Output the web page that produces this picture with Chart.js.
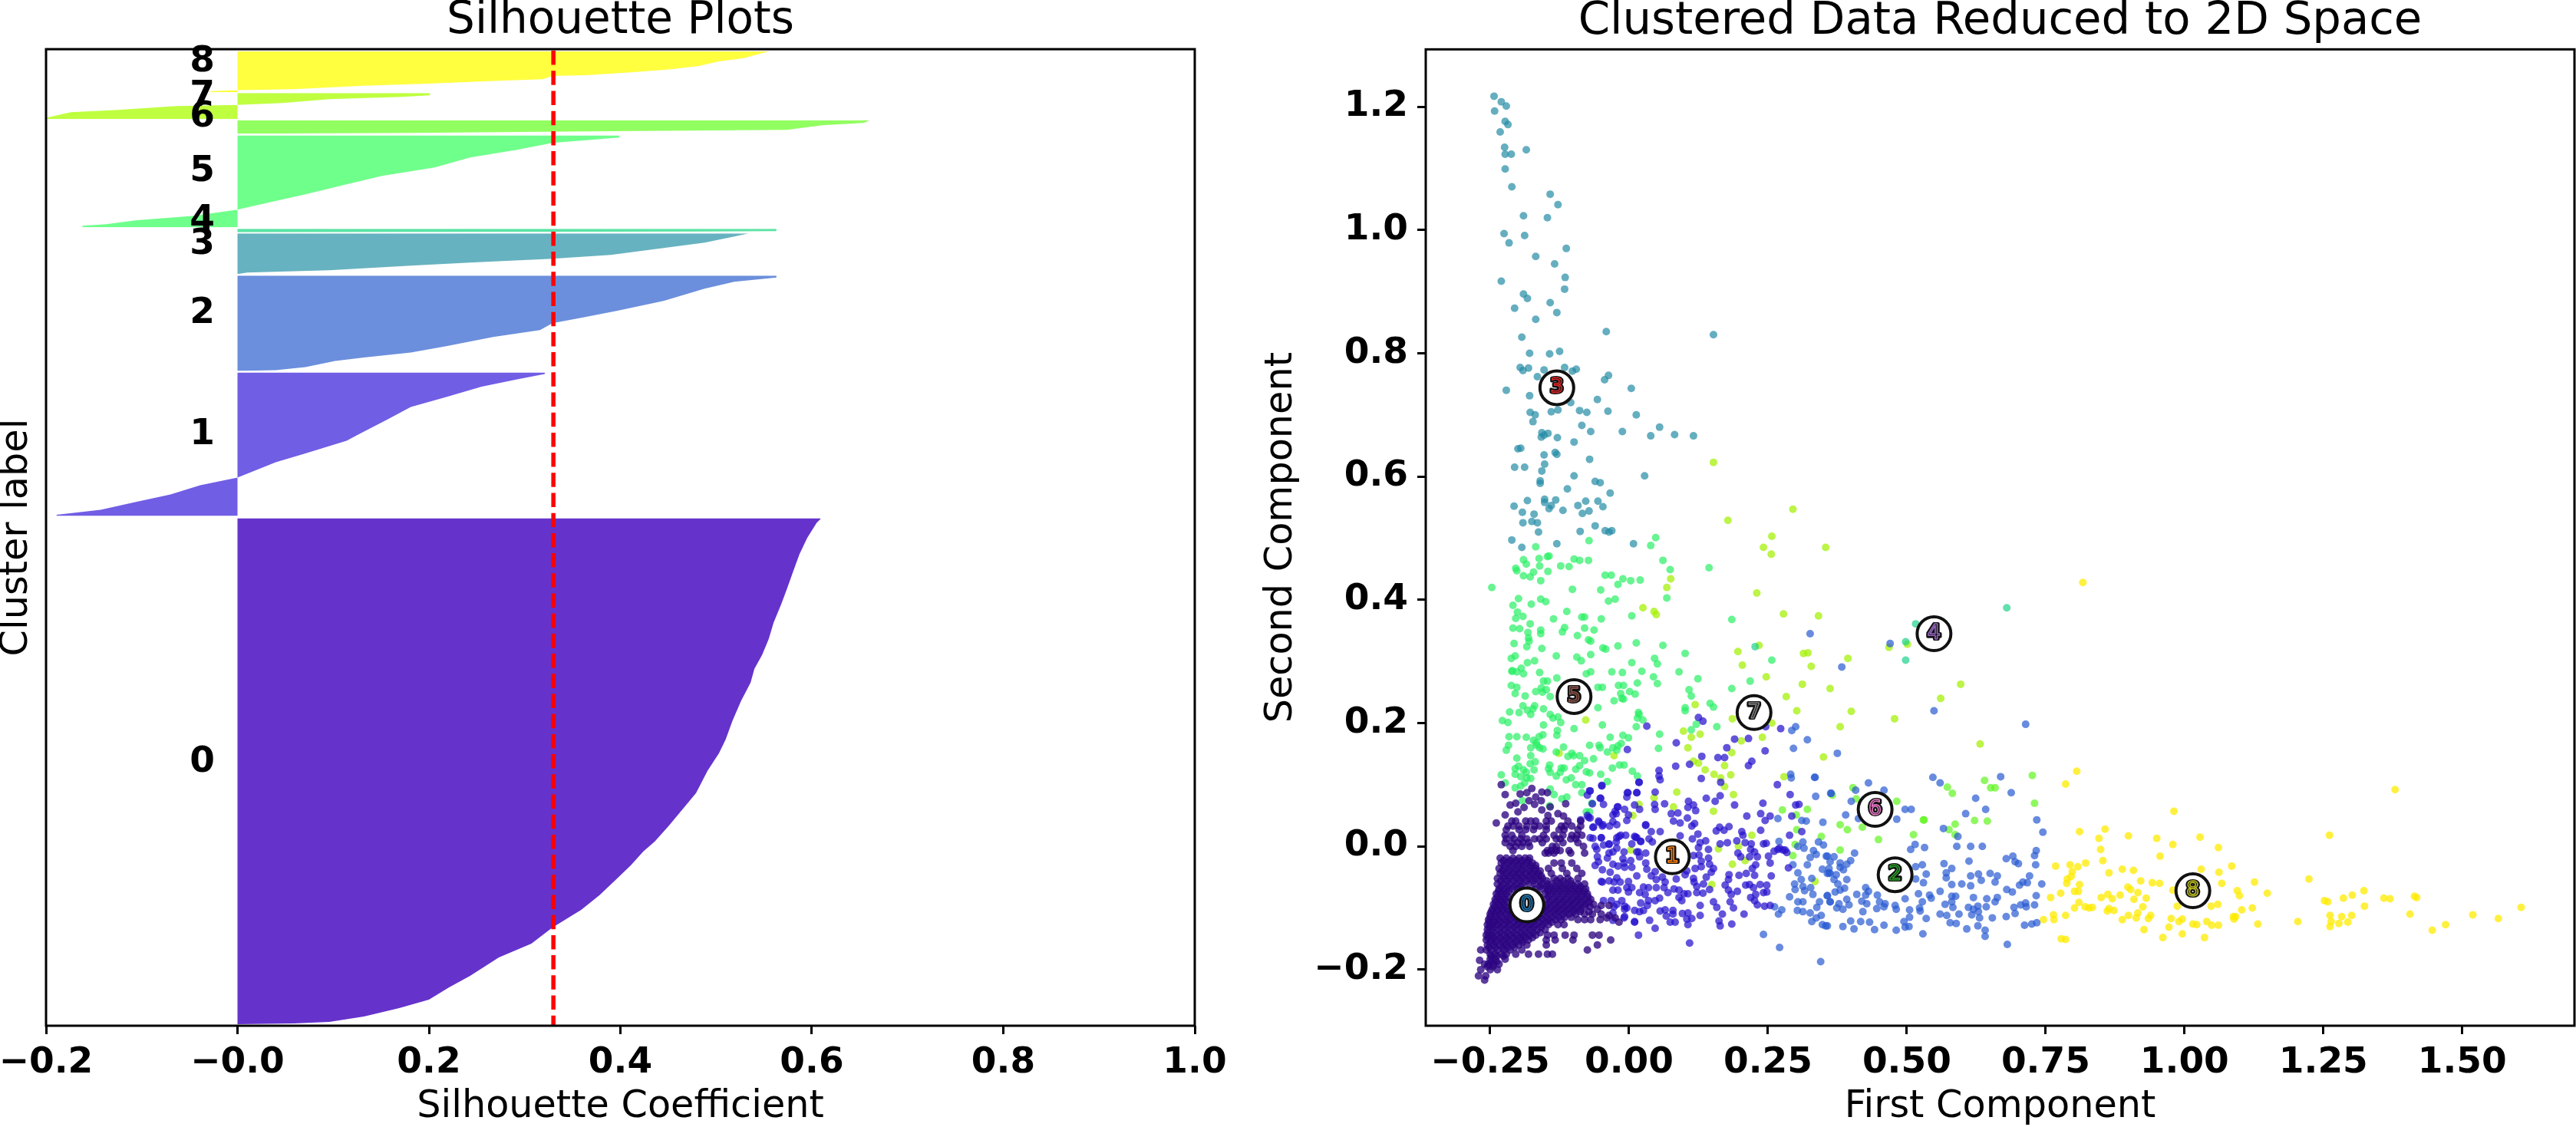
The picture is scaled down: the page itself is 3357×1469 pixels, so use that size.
<!DOCTYPE html>
<html><head><meta charset="utf-8">
<script src="https://cdn.jsdelivr.net/npm/chart.js@4"></script>
<style>html,body{margin:0;padding:0;background:#fff;width:3357px;height:1469px;overflow:hidden}
canvas{position:absolute;top:0}</style></head><body>
<canvas id="sil" width="1617" height="1469" style="left:0"></canvas>
<canvas id="pca" width="1933" height="1469" style="left:1640px"></canvas>
<script>
const clusterIds=[0,1,2,3,4,5,6,7,8];
const silhouetteMean=0.33;
// silhouette outlines, [coefficient, sample rank]
const sil0=[[.609,661],[.609,660],[.605,655],[.595,635],[.587,614],[.580,590],[.574,569],[.568,549],[.560,525],[.555,504],[.548,483],[.540,465],[.536,447],[.526,423],[.517,397],[.510,373],[.503,355],[.491,332],[.479,303],[.467,285],[.451,261],[.436,240],[.424,227],[.411,209],[.396,191],[.378,170],[.359,151],[.329,128],[.307,107],[.273,89],[.243,65],[.221,50],[.200,34],[.169,23],[.132,12],[.096,5],[.059,3],[0,2]];
const sil1=[[.321,851],[.321,849],[.292,842],[.255,832.5],[.218,819],[.181,806],[.157,790],[.126,770],[.114,762],[.071,745.5],[.040,734],[0,714],[-.039,704],[-.070,692],[-.107,682],[-.143,672],[-.189,665.6],[-.189,664]];
const sil2=[[.563,977],[.563,974.5],[.519,969],[.488,960],[.445,944],[.396,931],[.359,922],[.329,915],[.316,906],[.267,897],[.218,885],[.181,877],[.132,870.5],[.102,866],[.071,858],[.040,854],[0,853]];
const sil3=[[.534,1032],[.519,1028],[.488,1020],[.439,1012],[.390,1004],[.329,999],[.243,994],[.181,990],[.096,984],[.010,981],[0,979]];
const sil4=[[.563,1038],[.563,1035],[.488,1034.5],[0,1033.5]];
const sil5=[[.399,1159.8],[.399,1157],[.329,1150],[.292,1141],[.243,1131],[.206,1118],[.151,1107],[.114,1096],[.071,1083],[.028,1071],[0,1063],[-.045,1055],[-.107,1049],[-.137,1044],[-.162,1042],[-.162,1040]];
const sil6=[[.661,1179.4],[.654,1176],[.611,1173],[.574,1167],[.365,1165],[.181,1163],[0,1162]];
const sil7=[[.201,1215],[.201,1212],[.172,1210],[.096,1207],[.047,1202],[0,1199.5],[-.064,1198],[-.125,1193],[-.174,1190],[-.199,1183],[-.199,1181]];
const sil8=[[.555,1269],[.528,1260],[.503,1256],[.482,1250],[.451,1245.5],[.414,1242],[.365,1238],[.329,1237],[.319,1233],[.273,1231],[.194,1227],[.132,1224.5],[.059,1220],[0,1218.7],[-.027,1217.4],[-.030,1216]];
const labelRanks=[331,757,915,1005,1036,1100,1171,1198,1243];

const clusterCentersX=[-.184,.078,.479,-.130,.549,-.099,.443,.225,1.015];
const clusterCentersY=[-.095,-.017,-.046,.744,.345,.243,.060,.217,-.072];

const pts3=[[-.243,1.217],[-.230,1.208],[-.221,1.201],[-.242,1.193],[-.223,1.176],[-.218,1.171],[-.232,1.159],[-.224,1.134],[-.185,1.130],[-.223,1.123],[-.212,1.123],[-.223,1.099],[-.211,1.070],[-.142,1.058],[-.128,1.041],[-.190,1.023],[-.147,1.020],[-.225,.994],[-.188,.991],[-.216,.979],[-.113,.970],[-.168,.957],[-.134,.945],[-.115,.923],[-.230,.917],[-.116,.904],[-.190,.896],[-.183,.889],[-.142,.882],[-.206,.873],[-.130,.866],[-.168,.855],[-.041,.835],[.152,.830],[-.193,.826],[-.125,.803],[-.179,.800],[-.143,.799],[-.196,.777],[-.181,.776],[-.191,.772],[-.153,.773],[-.116,.777],[-.095,.774],[-.102,.771],[-.037,.764],[-.165,.762],[-.044,.757],[-.221,.740],[.004,.743],[-.179,.731],[-.057,.725],[-.105,.720],[-.178,.704],[-.169,.700],[-.140,.705],[-.128,.708],[-.089,.707],[-.076,.704],[-.038,.706],[.013,.700],[-.173,.689],[-.085,.683],[.055,.680],[-.157,.671],[-.146,.670],[-.153,.667],[-.158,.664],[-.069,.673],[-.012,.673],[.039,.666],[.082,.668],[.116,.666],[-.129,.663],[-.099,.656],[-.200,.645],[-.195,.646],[-.133,.639],[-.130,.636],[-.153,.635],[-.071,.628],[-.152,.620],[-.206,.615],[-.188,.615],[-.157,.609],[-.099,.601],[.028,.601],[-.160,.593],[-.160,.589],[-.061,.592],[-.052,.590],[-.111,.580],[-.034,.573],[-.183,.561],[-.152,.563],[-.152,.558],[-.132,.562],[-.078,.560],[-.056,.560],[-.207,.552],[-.140,.553],[-.144,.548],[-.092,.553],[-.047,.551],[-.192,.542],[-.171,.539],[-.119,.545],[-.084,.540],[-.072,.544],[-.175,.527],[-.191,.525],[-.165,.525],[-.061,.520],[-.088,.511],[-.163,.510],[-.043,.512],[-.036,.510],[-.031,.512],[-.211,.497],[-.193,.485],[-.130,.491],[.008,.491]];

const pts4=[[.516,.361],[.498,.332],[.498,.302],[.680,.387],[.227,.324]];

const pts5=[[-.168,.486],[-.072,.496],[.048,.501],[.039,.488],[-.190,.465],[-.162,.467],[-.147,.470],[-.144,.471],[-.099,.466],[-.089,.464],[-.073,.464],[.061,.464],[-.204,.451],[-.202,.447],[-.185,.458],[-.161,.455],[-.123,.455],[-.108,.454],[.074,.449],[.144,.452],[-.172,.445],[-.146,.446],[-.190,.439],[-.043,.440],[-.032,.440],[-.247,.420],[-.178,.437],[-.159,.431],[-.102,.417],[-.051,.416],[-.011,.434],[-.020,.425],[.003,.431],[.020,.432],[.068,.403],[-.199,.402],[-.209,.391],[-.159,.401],[-.150,.397],[-.176,.393],[-.037,.398],[-.025,.401],[-.112,.381],[-.201,.380],[-.204,.370],[-.191,.373],[-.136,.369],[.005,.374],[-.085,.372],[-.080,.372],[-.050,.369],[.185,.368],[-.178,.361],[-.209,.354],[-.197,.353],[-.116,.355],[-.080,.354],[-.063,.351],[-.159,.351],[-.182,.347],[-.159,.345],[-.120,.348],[-.093,.342],[-.181,.338],[-.180,.333],[-.073,.335],[-.069,.333],[-.207,.329],[.013,.330],[-.184,.324],[-.157,.321],[-.047,.322],[-.042,.320],[-.020,.325],[.061,.326],[.101,.313],[-.212,.305],[-.205,.309],[-.131,.309],[-.069,.311],[-.094,.307],[-.086,.301],[-.183,.298],[-.170,.301],[.005,.298],[.046,.305],[.051,.296],[.257,.302],[-.210,.285],[-.194,.289],[-.211,.284],[-.202,.283],[-.190,.280],[-.161,.282],[-.077,.280],[-.069,.283],[-.031,.283],[-.012,.282],[.023,.284],[.090,.283],[.044,.275],[-.130,.273],[.124,.272],[.218,.268],[-.154,.268],[-.147,.268],[.051,.264],[-.212,.261],[-.202,.258],[-.158,.257],[-.149,.254],[-.168,.251],[-.056,.258],[-.048,.258],[-.019,.261],[-.010,.261],[.015,.265],[.185,.256],[.108,.254],[-.205,.248],[-.156,.250],[.001,.251],[.011,.247],[-.015,.248],[.112,.244],[-.187,.244],[-.142,.243],[-.013,.240],[-.027,.236],[-.010,.239],[.146,.232],[.152,.226],[-.056,.225],[.101,.225],[.101,.220],[-.191,.228],[-.170,.228],[-.183,.221],[-.173,.223],[-.198,.217],[-.215,.218],[-.154,.223],[-.177,.214],[-.142,.214],[-.137,.208],[-.128,.210],[.017,.217],[.018,.214],[.015,.208],[-.228,.204],[-.218,.201],[-.123,.201],[.025,.205],[.121,.198],[-.154,.197],[-.048,.197],[.013,.194],[.158,.194],[.112,.189],[-.099,.191],[.055,.182],[-.129,.188],[-.130,.180],[-.155,.181],[-.216,.178],[-.202,.178],[-.185,.177],[-.034,.177],[-.011,.180],[-.001,.176],[-.172,.172],[-.162,.178],[-.217,.164],[-.167,.168],[-.177,.160],[-.166,.164],[-.071,.164],[-.054,.164],[-.014,.167],[-.020,.163],[.053,.159],[-.221,.156],[-.161,.160],[-.155,.158],[-.118,.161],[-.052,.160],[-.029,.160],[-.131,.153],[-.103,.151],[-.100,.147],[-.089,.147],[-.039,.153],[-.022,.156],[-.177,.147],[-.110,.146],[-.202,.143],[-.064,.142],[-.080,.139],[-.169,.137],[-.178,.134],[-.143,.132],[-.017,.132],[-.009,.132],[-.030,.127],[-.089,.131],[-.096,.125],[-.199,.130],[-.205,.126],[-.122,.127],[-.117,.127],[-.145,.126],[-.190,.124],[-.185,.120],[-.171,.124],[-.142,.120],[-.124,.120],[-.077,.121],[-.071,.119],[-.051,.117],[.006,.122],[-.230,.116],[-.205,.117],[-.195,.113],[-.184,.111],[-.131,.114],[-.177,.110],[.015,.114],[-.113,.108],[-.104,.111],[-.039,.105],[-.223,.103],[-.096,.100],[-.085,.100],[-.188,.103],[-.205,.095],[-.195,.098],[-.085,.087],[-.142,.093],[-.135,.084],[-.112,.080],[-.121,.077],[-.192,.074],[-.143,.066],[-.067,.070],[-.077,.056],[-.071,.056]];

const pts6=[[.573,.096],[.582,.086],[.640,.107],[.651,.095],[.659,.095],[.726,.115],[.730,.070],[.531,.043],[.587,.036],[.622,.042],[.645,.041],[.576,.027],[.587,.019],[.482,.073],[.420,.031],[.449,.011],[.512,.019],[.393,.027],[.380,.035],[.321,.060],[.276,.059],[.301,.051],[.302,.027],[.346,.016],[.403,.095],[.409,.077],[.366,.083],[.299,.003],[.295,-.015],[.380,-.006],[.530,.043]];

const pts7=[[.152,.623],[.178,.529],[.295,.547],[.257,.503],[.242,.485],[.256,.474],[.354,.485],[.075,.434],[.068,.420],[.230,.411],[.025,.387],[.045,.381],[.049,.376],[.278,.377],[.341,.374],[.196,.316],[.234,.326],[.314,.313],[.322,.314],[.204,.294],[.328,.292],[.394,.305],[.247,.275],[.312,.263],[.362,.256],[.283,.243],[.119,.230],[.302,.220],[.186,.207],[.400,.219],[.478,.207],[.561,.240],[.468,.323],[.501,.328],[-.078,.205],[.257,.200],[.380,.194],[.098,.187],[.128,.182],[.112,.177],[.240,.177],[.202,.171],[.106,.160],[.185,.152],[.350,.145],[-.027,.147],[-.126,.151],[.116,.138],[.125,.135],[.172,.131],[.137,.124],[.183,.116],[.153,.117],[.165,.111],[.279,.113],[.172,.097],[.086,.088],[.188,.084],[.045,.079],[.018,.068],[.080,.064],[.152,.057],[.007,.050],[.221,.018],[.197,0],[.161,-.004],[.003,-.006],[.186,-.029],[.209,-.023],[.149,-.062],[.335,-.057],[.597,.263],[.632,.166]];

const pts8=[[.817,.428],[.806,.122],[.786,.101],[1.379,.092],[.981,.057],[.811,.024],[.857,.028],[.899,.017],[.846,.013],[.950,.013],[1.028,.015],[1.261,.018],[.979,.003],[1.061,-.002],[.849,-.005],[.956,-.016],[.853,-.023],[.822,-.027],[.768,-.032],[.794,-.030],[.808,-.033],[1.085,-.032],[.888,-.037],[.908,-.039],[1.030,-.037],[.798,-.041],[.864,-.043],[1.062,-.042],[.796,-.049],[.789,-.053],[1.224,-.053],[.921,-.056],[.942,-.059],[.955,-.060],[1.126,-.058],[.788,-.060],[1.067,-.060],[.811,-.062],[.898,-.066],[.903,-.070],[1.095,-.072],[.802,-.073],[.809,-.073],[1.323,-.072],[.916,-.075],[.777,-.076],[1.149,-.076],[1.099,-.080],[1.302,-.079],[1.286,-.084],[.862,-.078],[.884,-.079],[.759,-.083],[.870,-.085],[.850,-.083],[.909,-.086],[.931,-.084],[1.359,-.084],[1.370,-.085],[1.414,-.081],[1.418,-.083],[1.252,-.088],[1.258,-.090],[.810,-.091],[1.060,-.094],[1.048,-.097],[.987,-.097],[1.324,-.097],[1.606,-.099],[.821,-.098],[.828,-.100],[.834,-.099],[.802,-.100],[.925,-.098],[.864,-.101],[.873,-.104],[.861,-.105],[1.122,-.100],[1.103,-.103],[.916,-.108],[.939,-.112],[.899,-.112],[.913,-.116],[.935,-.117],[.888,-.119],[.786,-.112],[.764,-.111],[.765,-.119],[.746,-.119],[1.406,-.110],[1.519,-.111],[1.565,-.117],[1.262,-.112],[1.283,-.114],[1.301,-.112],[1.088,-.114],[1.092,-.114],[1.089,-.118],[.976,-.117],[.996,-.118],[.990,-.122],[1.015,-.126],[1.022,-.127],[1.040,-.122],[1.049,-.128],[1.061,-.128],[1.132,-.126],[1.204,-.122],[1.264,-.122],[1.278,-.125],[1.294,-.123],[1.262,-.130],[1.470,-.127],[1.446,-.136],[.972,-.131],[.927,-.135],[.996,-.142],[.961,-.148],[1.036,-.148],[.778,-.150],[.786,-.151],[.979,-.071]];

const pts2=[[.357,-.016],[.369,-.017],[.362,-.025],[.380,-.027],[.380,-.034],[.386,-.038],[.399,-.023],[.392,-.029],[.406,-.011],[.360,-.036],[.357,-.044],[.362,-.044],[.373,-.046],[.369,-.054],[.376,-.061],[.392,-.054],[.371,-.074],[.380,-.071],[.388,-.068],[.357,-.080],[.362,-.090],[.378,-.093],[.385,-.102],[.396,-.095],[.374,-.100],[.392,-.086],[.410,-.078],[.426,-.067],[.431,-.073],[.426,-.079],[.419,-.089],[.428,-.093],[.447,-.079],[.451,-.090],[.461,-.093],[.459,-.098],[.446,-.101],[.421,-.106],[.479,-.096],[.481,-.102],[.505,-.103],[.523,-.100],[.524,-.105],[.528,-.090],[.497,-.085],[.521,-.077],[.541,-.079],[.544,-.084],[.560,-.073],[.581,-.081],[.588,-.081],[.581,-.090],[.569,-.094],[.583,-.099],[.611,-.099],[.620,-.102],[.628,-.097],[.643,-.098],[.659,-.090],[.663,-.083],[.620,-.083],[.644,-.085],[.680,-.070],[.690,-.074],[.703,-.063],[.709,-.058],[.693,-.099],[.705,-.095],[.714,-.092],[.695,-.109],[.679,-.114],[.654,-.116],[.631,-.116],[.629,-.106],[.617,-.111],[.594,-.110],[.560,-.110],[.572,-.112],[.578,-.124],[.589,-.125],[.608,-.134],[.628,-.129],[.641,-.136],[.641,-.146],[.681,-.159],[.712,-.128],[.529,-.142],[.535,-.117],[.505,-.115],[.495,-.122],[.497,-.131],[.504,-.130],[.481,-.136],[.459,-.128],[.442,-.135],[.433,-.123],[.417,-.122],[.405,-.134],[.399,-.121],[.385,-.130],[.357,-.129],
[.567,-.028],[.581,-.036],[.571,-.043],[.571,-.051],[.615,-.048],[.629,-.045],[.634,-.055],[.650,-.044],[.663,-.048],[.659,-.058],[.581,-.062],[.599,-.061],[.615,-.064],[.612,-.024],[.679,-.020],[.691,-.016],[.695,-.025],[.701,-.028],[.590,0],[.615,0],[.636,0],[.606,.053],[.624,.078],[.642,.060],[.566,.029],[.592,.016],
[.528,-.030],[.516,-.033],[.535,-.045],[.530,-.059],[.516,-.053],[.532,-.002],[.515,.003],[.507,-.005],[.459,.091],[.431,.103],[.390,.051],[.413,.045],[.482,.044],[.497,.060],[.508,.060],[.547,.112],[.560,.103],[.669,.113],[.688,.087],[.400,.073],[.408,.091],[.364,.086],
[.734,.043],[.745,.023],[.733,-.007],[.730,-.015],[.732,-.030],[.721,-.048],[.743,-.061],[.717,-.059],[.733,-.080],[.715,-.098],[.730,-.095],[.725,-.126],[.734,-.124],[.714,.198],[.549,.220],
[.334,.112],[.336,.081],[.363,.086],[.349,.039],[.311,.042],[.319,.041],[.268,.045],[.270,.008],[.313,.007],[.304,0],[.315,-.003],[.341,.007],[.350,.002],[.332,-.007],[.326,-.018],[.337,-.013],[.355,-.016],[.295,-.030],[.321,-.030],[.304,-.043],[.348,-.037],[.360,-.043],[.298,-.061],[.310,-.054],[.329,-.052],[.299,-.070],[.313,-.065],[.316,-.072],[.327,-.067],[.331,-.078],[.289,-.082],[.304,-.090],[.313,-.090],[.357,-.080],[.362,-.090],[.338,-.099],[.343,-.090],[.262,-.098],[.275,-.103],[.269,-.110],[.303,-.104],[.313,-.106],[.326,-.108],[.346,-.112],[.337,-.116],[.329,-.122],[.348,-.127],[.354,-.129],[.242,-.143],[.271,-.164],[.345,-.187],
[.326,.345],[.470,.329],[.383,.291],[.321,.173],[.375,.151],[.300,.194],[.293,.188],[.296,.159],[.291,.117],[.292,.111],[.335,.112]];

const pts1=[[.125,.209],[.133,.203],[.032,.195],[.190,.174],[.215,.175],[.273,.191],[.246,.194],[.085,.168],[.176,.160],[-.003,.157],[.245,.155],[.160,.144],[.172,.144],[.131,.146],[.221,.138],[.215,.131],[.109,.133],[.084,.130],[.054,.123],[.054,.114],[.056,.108],[.130,.110],[.165,.104],[.018,.104],[-.049,.099],[-.070,.090],[-.003,.087],[-.052,.078],[-.021,.064],[-.025,.057],[-.075,.050],[-.070,.046],[-.029,.051],[-.001,.051],[-.054,.039],[-.047,.035],[-.064,.031],[-.022,.035],[-.050,.014],[-.070,.014],[-.022,.014],[-.015,.018],[.010,.016],[-.061,0],[-.036,.003],[-.022,-.003],[-.036,-.011],[-.057,-.017],[-.011,-.020],[.003,-.023],[-.061,-.031],[-.029,-.029],[-.008,-.034],[-.050,-.057],[-.022,-.051],[-.001,-.057],[-.001,-.074],[-.029,-.071],[-.008,-.097],[-.008,-.114],[.010,-.123],[-.029,-.120],[.109,-.157],[-.008,-.102],[-.022,-.094],[-.029,-.108],[.290,.084],[.300,.067],[.306,.068],[.281,-.006],[.271,-.003],[.289,.018],[.311,.024],[.293,.049],[.267,.100],
[-.071,.090],[-.075,.083],[-.049,.098],[-.051,.078],[-.046,.068],[-.066,.069],[-.087,.043],[-.073,.047],[-.055,.041],[-.029,.040],[-.065,.031],[-.048,.033],[-.035,.033],[-.020,.064],[-.008,.060],[-.023,.053],[-.004,.042],[-.002,.087],[-.004,.080],[.014,.087],[.018,.104],[.010,.067],[.019,.060],[-.065,.013],[-.050,.014],[-.058,-.005],[-.036,.004],[-.046,.002],[-.018,.016],[-.006,.018],[-.023,.007],[-.029,-.009],[-.039,-.019],[-.055,-.025],[-.048,-.038],[-.034,-.042],[-.020,-.032],[-.009,-.027],[.005,-.034],[.014,-.048],[.030,.035],[.040,.024],[.012,.015],[.021,.008],[.005,.004],[.014,-.009],[-.009,-.009],[-.036,-.056],[-.048,-.058],[-.027,-.058],[-.016,-.058],[-.020,-.071],[-.004,-.067],[.005,-.067],[-.013,-.088],[-.004,-.100],[.010,-.104],[-.027,-.098],[-.046,-.088],[-.032,-.088],[-.009,-.116],[.010,-.122],
[.014,.014],[.021,.008],[.017,-.009],[.030,-.011],[.019,-.017],[.030,-.027],[.032,-.037],[.040,-.048],[.047,-.041],[.060,-.050],[.065,-.058],[.049,-.054],[.035,-.067],[.026,-.066],[.019,-.075],[.029,-.078],[.049,-.067],[.063,-.067],[.070,-.075],[.081,-.069],[.090,-.071],[.099,-.077],[.106,-.077],[.090,-.083],[.095,-.088],[.055,-.084],[.047,-.088],[.035,-.088],[.021,-.092],[.033,-.096],[.026,-.104],[.019,-.106],[.056,-.105],[.065,-.103],[.079,-.104],[.079,-.110],[.067,-.113],[.096,-.109],[.106,-.108],[.113,-.117],[.104,-.118],[.037,-.120],[.074,-.123],[.083,-.123],[.106,-.127],[.047,-.133],[.017,-.144],[.128,-.112],[.128,-.096],[.152,-.090],[.158,-.099],[.168,-.110],[.162,-.121],[.164,-.129],[.185,-.126],[.182,-.090],[.188,-.100],[.207,-.110],[.231,-.095],[.244,-.097],[.254,-.096],[.122,-.075],[.133,-.076],[.145,-.070],[.134,-.061],[.122,-.065],[.116,-.052],[.117,-.058],[.139,-.050],[.148,-.042],[.152,-.036],[.130,-.033],[.145,-.029],[.130,-.024],[.143,-.019],[.126,-.014],[.116,-.015],[.119,-.036],[.104,-.040],[.101,-.046],[.085,-.053],[.125,-.002],[.128,.006],[.138,.009],[.143,-.005],[.114,.012],[.124,.020],[.092,.017],[.056,.024],[.030,.034],[.042,.007],[.036,.012],[.180,-.046],[.179,-.054],[.173,-.063],[.179,-.071],[.184,-.078],[.195,-.073],[.198,-.047],[.211,-.044],[.210,-.063],[.217,-.062],[.222,-.036],[.228,-.030],[.226,-.047],[.224,-.067],[.228,-.078],[.219,-.083],[.226,-.088],[.196,-.011],[.201,-.017],[.217,-.017],[.231,-.017],[.219,-.005],[.226,-.009],[.220,.004],[.209,.006],[.194,.009],[.205,.018],[.203,.024],[.177,.006],[.164,.004],[.157,.025],[.163,.031],[.171,.026],[.180,.032],[.113,.033],[.118,.037],[.105,.046],[.092,.038],[.080,.041],[.076,.053],[.088,.054],[.120,.058],[.106,.063],[.116,.067],[.107,.073],[.064,.069],[.047,.060],[.046,.068],[.047,.088],[.014,.087],[.139,.078],[.155,.073],[.164,.082],[.190,.067],[.212,.049],[.237,.053],[.254,.049],[.245,.042],[.241,.070],[.237,.026],[.242,.004],[.247,.005],[.261,-.008],[.251,-.016],[.268,-.005],[.277,-.006],[.284,-.010],[.254,-.027],[.287,-.035],[.256,-.048],[.248,-.063],[.236,-.062],[.248,-.074],[.242,-.075]];

// cluster 0, read row by row: [second component, [first component...]]
const rows0=[
[.100,[-.230]],[.094,[-.175]],[.088,[-.157]],[.087,[-.184,-.147]],[.085,[-.196]],[.084,[-.223]],[.080,[-.168]],[.074,[-.180,-.158]],[.070,[-.204]],[.069,[-.114]],[.068,[-.170]],[.067,[-.214]],[.064,[-.142]],[.063,[-.189]],[.059,[-.157]],[.056,[-.200]],[.053,[-.128]],[.051,[-.223]],[.050,[-.146]],[.049,[-.118]],
[.041,[-.211,-.204,-.186,-.177,-.168,-.149,-.140,-.110,-.087]],[.038,[-.239]],
[.033,[-.218,-.209,-.198,-.184,-.170,-.161,-.149,-.122,-.115,-.103,-.087]],
[.027,[-.221,-.198,-.186,-.172,-.149,-.126,-.117,-.092]],
[.018,[-.223,-.211,-.193,-.154,-.135,-.119,-.103,-.094,-.085]],
[.012,[-.221,-.207,-.195,-.184,-.170,-.161,-.149,-.131,-.124,-.105,-.096]],
[.006,[-.223,-.211,-.200,-.191,-.181,-.156,-.119,-.092]],
[0,[-.214,-.204,-.193,-.179,-.138,-.131,-.082]],
[-.007,[-.209,-.147,-.140,-.131,-.124,-.108]],[-.011,[-.151,-.145,-.135,-.105,-.080]],
[-.019,[-.232,-.221,-.209,-.198,-.187,-.179]],
[-.023,[-.226,-.214,-.203,-.192,-.181]],
[-.027,[-.230,-.218,-.207,-.195,-.184,-.174,-.135,-.122,-.103]],
[-.031,[-.224,-.212,-.200,-.190,-.178,-.168]],
[-.036,[-.234,-.225,-.214,-.202,-.191,-.179,-.168,-.145,-.120,-.094]],
[-.040,[-.228,-.216,-.204,-.192,-.180,-.170,-.160]],
[-.044,[-.232,-.221,-.209,-.198,-.186,-.174,-.163,-.140,-.112,-.085]],
[-.048,[-.226,-.214,-.203,-.192,-.180,-.168,-.158]],
[-.052,[-.237,-.225,-.214,-.202,-.191,-.179,-.168,-.156,-.135,-.124,-.110,-.092]],
[-.056,[-.231,-.220,-.208,-.196,-.184,-.172,-.160,-.148,-.130,-.118,-.105]],
[-.061,[-.237,-.227,-.216,-.204,-.193,-.181,-.170,-.158,-.147,-.138,-.126,-.115,-.103,-.092,-.080]],
[-.065,[-.230,-.218,-.206,-.194,-.160,-.148,-.136,-.124,-.112,-.100,-.088]],
[-.069,[-.234,-.223,-.211,-.200,-.170,-.158,-.147,-.135,-.124,-.112,-.101,-.089,-.078]],
[-.073,[-.235,-.226,-.216,-.146,-.136,-.124,-.112,-.100,-.090,-.080]],
[-.077,[-.239,-.230,-.221,-.151,-.142,-.131,-.119,-.108,-.096,-.085,-.075]],
[-.082,[-.237,-.228,-.218,-.145,-.132,-.120,-.108,-.096,-.086,-.074]],
[-.086,[-.241,-.232,-.223,-.149,-.138,-.126,-.115,-.103,-.092,-.080,-.069]],
[-.090,[-.240,-.230,-.220,-.142,-.130,-.118,-.106,-.095,-.084,-.072]],
[-.094,[-.244,-.234,-.225,-.147,-.135,-.124,-.112,-.101,-.089,-.078,-.064]],
[-.096,[-.050,-.036]],
[-.098,[-.242,-.232,-.222,-.150,-.140,-.128,-.116,-.104,-.092,-.080,-.070]],
[-.102,[-.246,-.237,-.227,-.218,-.156,-.145,-.133,-.122,-.110,-.099,-.087,-.057]],
[-.106,[-.248,-.238,-.228,-.216,-.205,-.194,-.182,-.171,-.160,-.148,-.136,-.125,-.113,-.100,-.088,-.072]],
[-.110,[-.250,-.241,-.232,-.221,-.211,-.200,-.188,-.177,-.165,-.154,-.142,-.131,-.119,-.108,-.096,-.080,-.066,-.050]],
[-.112,[-.036]],
[-.115,[-.250,-.240,-.230,-.219,-.208,-.196,-.185,-.174,-.162,-.150,-.139,-.127,-.116,-.104]],
[-.116,[-.040,-.025]],
[-.119,[-.253,-.244,-.234,-.223,-.214,-.202,-.191,-.179,-.168,-.156,-.145,-.133,-.122,-.092,-.080,-.069,-.052]],
[-.123,[-.252,-.243,-.232,-.220,-.208,-.197,-.185,-.174,-.162,-.150,-.139,-.018]],
[-.127,[-.255,-.246,-.237,-.225,-.214,-.202,-.191,-.179,-.168,-.156,-.145,-.128,-.117]],
[-.131,[-.252,-.242,-.230,-.218,-.206,-.194,-.182,-.171,-.158]],
[-.135,[-.255,-.246,-.234,-.223,-.211,-.200,-.188,-.177,-.165,-.151]],
[-.140,[-.254,-.244,-.232,-.220,-.208,-.196,-.185,-.173,-.160]],
[-.144,[-.257,-.248,-.237,-.225,-.214,-.202,-.191,-.179,-.168,-.147,-.135,-.115,-.099,-.066,-.054]],
[-.148,[-.254,-.244,-.232,-.220,-.208,-.196,-.186,-.174]],
[-.152,[-.257,-.248,-.239,-.227,-.216,-.204,-.193,-.181,-.149,-.133,-.101,-.033]],
[-.156,[-.250,-.240,-.228,-.216,-.204,-.192]],
[-.160,[-.255,-.244,-.232,-.221,-.209,-.198,-.184,-.149,-.057]],
[-.164,[-.252,-.240,-.228,-.218,-.206]],
[-.168,[-.267,-.257,-.248,-.237,-.225,-.214,-.193,-.075]],
[-.175,[-.250,-.241,-.230,-.221,-.204,-.181,-.163,-.147,-.138]],
[-.178,[-.248,-.238,-.226]],
[-.183,[-.250,-.241,-.223]],[-.185,[-.269]],[-.187,[-.248,-.238]],[-.191,[-.253,-.244,-.234,-.260]],[-.195,[-.255,-.245]],[-.200,[-.267,-.250,-.237]],[-.210,[-.271,-.258]],[-.217,[-.260]]];
const pts0=rows0.flatMap(([y,xs])=>xs.map(x=>[x,y]));

const silhouetteColors=['rgba(63,0,190,.8)','rgba(57,32,219,.72)','rgba(44,95,205,.7)','rgba(39,145,165,.7)','rgba(22,215,125,.7)','rgba(50,255,90,.7)','rgba(100,255,30,.7)','rgba(170,255,0,.75)','rgba(255,255,0,.75)'];
const pointColors=['rgba(45,5,130,.78)','rgba(38,16,205,.72)','rgba(40,90,210,.7)','rgba(35,140,165,.7)','rgba(30,210,140,.7)','rgba(40,240,100,.7)','rgba(95,245,30,.7)','rgba(165,240,10,.75)','rgba(255,235,0,.75)'];
const digitColors=['#1f77b4','#ff7f0e','#2ca02c','#d62728','#9467bd','#8c564b','#e377c2','#7f7f7f','#bcbd22'];

const FONT='"DejaVu Sans"';
const silSeries=[sil0,sil1,sil2,sil3,sil4,sil5,sil6,sil7,sil8];
const scatterSeries=[pts0,pts1,pts2,pts3,pts4,pts5,pts6,pts7,pts8];

const frame={id:'frame',afterDraw(c){const a=c.chartArea,x=c.ctx;x.save();x.strokeStyle='#000';x.lineWidth=3;x.strokeRect(a.left,a.top,a.right-a.left,a.bottom-a.top);x.restore();}};
const clusterText={id:'clusterText',afterDatasetsDraw(c){const x=c.ctx;x.save();x.fillStyle='#000';x.font='bold 47px '+FONT;x.textAlign='left';x.textBaseline='alphabetic';
 clusterIds.forEach((id,i)=>x.fillText(String(id),c.scales.x.getPixelForValue(-.05),c.scales.y.getPixelForValue(labelRanks[i])));x.restore();}};
const digits={id:'digits',afterDatasetsDraw(c){const x=c.ctx,m=c.getDatasetMeta(0);x.save();x.textAlign='center';x.textBaseline='middle';
 m.data.forEach((p,i)=>{const t=String(clusterIds[i]);x.font='bold 27px '+FONT;x.lineJoin='round';x.strokeStyle='#111';x.lineWidth=4;x.strokeText(t,p.x,p.y);x.fillStyle='#111';x.fillText(t,p.x,p.y);
  x.font='27px '+FONT;x.lineWidth=1.6;x.strokeStyle=digitColors[i];x.strokeText(t,p.x,p.y);});x.restore();}};

const tickFmt=d=>v=>(v<0?'\u2212':'')+Math.abs(v).toFixed(d);
const axisBase=(min,max,step,d,labelTxt,pad)=>({type:'linear',min,max,
 ticks:{stepSize:step,includeBounds:false,autoSkip:false,maxRotation:0,minRotation:0,padding:12,color:'#000',font:{family:FONT,size:47,weight:'bold',lineHeight:1.1},callback:tickFmt(d)},
 grid:{drawOnChartArea:false,drawTicks:true,tickLength:11,tickWidth:3,tickColor:'#000'},border:{display:false},
 title:{display:true,text:labelTxt,color:'#000',font:{family:FONT,size:49.3,lineHeight:1},padding:pad}});
const spacerAxis=w=>({type:'linear',position:'right',display:true,ticks:{display:false},grid:{display:false},border:{display:false},afterFit(s){s.width=w;}});

const silDatasets=[{type:'line',label:'mean',data:[{x:silhouetteMean,y:1270},{x:silhouetteMean,y:0}],parsing:false,borderColor:'#ff0000',borderWidth:5.5,borderDash:[18.5,7.7],pointRadius:0,fill:false,order:0}]
 .concat(silSeries.map((s,i)=>({label:'cluster '+i,data:s.slice().reverse().map(([x,y])=>({x,y})),parsing:false,backgroundColor:silhouetteColors[i],borderWidth:0,borderColor:'transparent',pointRadius:0,tension:0,fill:{value:0},order:1})));

new Chart(document.getElementById('sil'),{type:'line',data:{datasets:silDatasets},plugins:[frame,clusterText],
 options:{indexAxis:'y',responsive:false,animation:false,events:[],normalized:false,
  plugins:{legend:{display:false},tooltip:{enabled:false},title:{display:true,text:'Silhouette Plots',color:'#000',font:{family:FONT,size:58,weight:'normal',lineHeight:.95},padding:{top:0,bottom:9}}},
  scales:{x:Object.assign(axisBase(-.2,1,.2,1,'Silhouette Coefficient',{top:0,bottom:1}),{afterFit(s){s.height=132;s.paddingLeft=0;s.paddingRight=0;}}),
   y:{type:'linear',min:0,max:1272,ticks:{display:false},grid:{display:false},border:{display:false},title:{display:true,text:'Cluster label',color:'#000',font:{family:FONT,size:49.3,lineHeight:.9},padding:{top:0,bottom:0}},afterFit(s){s.width=60;}},
   spacer:spacerAxis(60)}}});

const pcaDatasets=[{type:'scatter',label:'centers',data:clusterCentersX.map((x,i)=>({x,y:clusterCentersY[i]})),backgroundColor:'#fff',borderColor:'#111',borderWidth:4,pointRadius:22,order:0}]
 .concat(scatterSeries.map((s,i)=>({type:'scatter',label:'cluster '+i,data:s.map(([x,y])=>({x,y})),backgroundColor:pointColors[i],borderWidth:0,pointRadius:5,order:1})));

new Chart(document.getElementById('pca'),{type:'scatter',data:{datasets:pcaDatasets},plugins:[frame,digits],
 options:{responsive:false,animation:false,events:[],
  plugins:{legend:{display:false},tooltip:{enabled:false},title:{display:true,text:'Clustered Data Reduced to 2D Space',color:'#000',font:{family:FONT,size:59.3,weight:'normal',lineHeight:.95},padding:{top:0,bottom:8}}},
  scales:{x:Object.assign(axisBase(-.366,1.702,.25,2,'First Component',{top:0,bottom:1}),{afterFit(s){s.height=132;s.paddingLeft=0;s.paddingRight=0;}}),
   y:Object.assign(axisBase(-.291,1.293,.2,1,'Second Component',{top:6,bottom:0}),{afterFit(s){s.width=218;}}),
   spacer:spacerAxis(218)}}});
</script></body></html>
